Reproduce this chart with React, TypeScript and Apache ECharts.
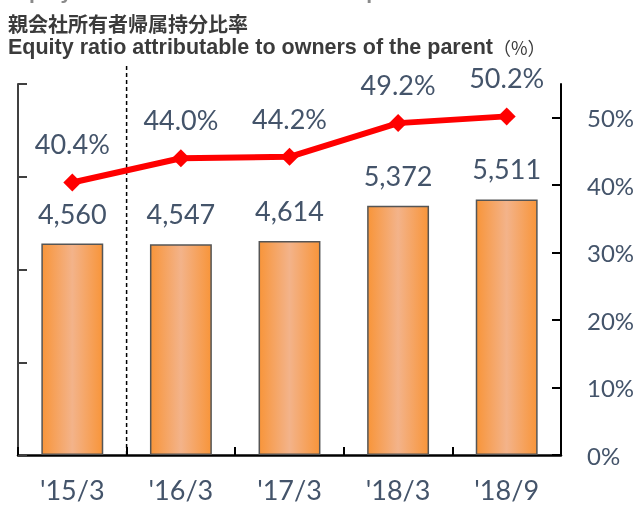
import React, { useEffect, useRef } from "react";
import * as echarts from "echarts";

const categories = ["'15/3", "'16/3", "'17/3", "'18/3", "'18/9"];
const equityValues = [4560, 4547, 4614, 5372, 5511];
const ratioValues = [40.4, 44.0, 44.2, 49.2, 50.2];
const leftTicks = { min: 0, max: 8000, interval: 2000 };
const rightTickValues = [0, 10, 20, 30, 40, 50];
const rightMax = 55;

const LABEL_COLOR = "#44546A";
const TITLE_COLOR = "#3b3b3b";
const NUM_FONT = "Lato, 'Open Sans', sans-serif";

export default function App() {
  const ref = useRef<HTMLDivElement>(null);
  useEffect(() => {
    if (!ref.current) return;
    const chart = echarts.init(ref.current, null, { renderer: "svg" });
    const option: any = {
      animation: false,
      grid: { left: 18, right: 78, top: 84, bottom: 50, containLabel: false },
      xAxis: {
        type: "category",
        data: categories,
        boundaryGap: true,
        axisLine: { show: true, lineStyle: { color: "#000", width: 2.5 } },
        axisTick: { show: true, inside: true, length: 8, lineStyle: { color: "#000", width: 2 } },
        axisLabel: { color: LABEL_COLOR, fontSize: 27, fontFamily: NUM_FONT, margin: 21 },
        splitLine: { show: false },
      },
      yAxis: [
        {
          type: "value",
          position: "left",
          min: leftTicks.min,
          max: leftTicks.max,
          interval: leftTicks.interval,
          axisLine: { show: true, lineStyle: { color: "#404040", width: 2 } },
          axisTick: { show: true, inside: true, length: 9, lineStyle: { color: "#404040", width: 2 } },
          axisLabel: { show: false },
          splitLine: { show: false },
        },
        {
          type: "value",
          position: "right",
          min: 0,
          max: rightMax,
          interval: 10,
          axisLine: { show: true, lineStyle: { color: "#000", width: 2 } },
          axisTick: {
            show: true,
            inside: true,
            length: 9,
            customValues: rightTickValues,
            lineStyle: { color: "#000", width: 2 },
          },
          axisLabel: {
            show: true,
            customValues: rightTickValues,
            formatter: (v: number) => v + "%",
            color: LABEL_COLOR,
            fontSize: 24,
            fontFamily: NUM_FONT,
            margin: 26,
            align: "left",
          },
          splitLine: { show: false },
        },
      ],
      series: [
        {
          type: "bar",
          yAxisIndex: 0,
          data: equityValues,
          barWidth: "57%",
          itemStyle: {
            color: new echarts.graphic.LinearGradient(0, 0, 1, 0, [
              { offset: 0, color: "#F8953A" },
              { offset: 0.5, color: "#F3B38A" },
              { offset: 1, color: "#F8953A" },
            ]),
            borderColor: "#555555",
            borderWidth: 1.5,
          },
          label: {
            show: true,
            position: "top",
            distance: 17,
            color: LABEL_COLOR,
            fontSize: 27,
            fontFamily: NUM_FONT,
            formatter: (p: any) => Number(p.value).toLocaleString("en-US"),
          },
          z: 2,
        },
        {
          type: "line",
          yAxisIndex: 1,
          data: ratioValues,
          symbol: "diamond",
          symbolSize: 18,
          lineStyle: { color: "#FF0000", width: 6 },
          itemStyle: { color: "#FF0000" },
          label: {
            show: true,
            position: "top",
            distance: 16,
            color: LABEL_COLOR,
            fontSize: 27,
            fontFamily: NUM_FONT,
            formatter: (p: any) => Number(p.value).toFixed(1) + "%",
          },
          z: 3,
        },
      ],
    };
    chart.setOption(option);

    const x0 = chart.convertToPixel({ xAxisIndex: 0 }, 0) as number;
    const x1 = chart.convertToPixel({ xAxisIndex: 0 }, 1) as number;
    const yBottom = chart.convertToPixel({ yAxisIndex: 0 }, 0) as number;
    const dividerX = (x0 + x1) / 2;

    chart.setOption({
      graphic: [
        {
          type: "text",
          left: 8,
          top: -19,
          style: {
            text: "Equity attributable to owners of the parent",
            fill: "#8a8a8a",
            font: "bold 21px 'Liberation Sans', Arial, sans-serif",
          },
        },
        {
          type: "text",
          left: 8,
          top: 12,
          style: {
            text: "親会社所有者帰属持分比率",
            fill: TITLE_COLOR,
            font: "bold 20px 'Noto Sans CJK JP', sans-serif",
            lineHeight: 22,
          },
        },
        {
          type: "text",
          left: 8,
          top: 36,
          style: {
            text: "{b|Equity ratio attributable to owners of the parent}{n|（%）}",
            rich: {
              b: {
                fill: TITLE_COLOR,
                fontWeight: "bold",
                fontSize: 21.5,
                lineHeight: 22,
                fontFamily: "'Liberation Sans', Arial, sans-serif",
              },
              n: {
                fill: TITLE_COLOR,
                fontSize: 18,
                lineHeight: 22,
                fontFamily: "'Noto Sans CJK JP', sans-serif",
              },
            },
          },
        },
        {
          type: "line",
          shape: { x1: dividerX, y1: 66, x2: dividerX, y2: yBottom },
          style: { stroke: "#000", lineWidth: 1.5, lineDash: [4, 3] },
          z: 1,
        },
      ],
    });

    return () => chart.dispose();
  }, []);
  return (
    <div
      ref={ref}
      style={{ position: "fixed", left: 0, top: 0, width: 639, height: 505 }}
    />
  );
}
